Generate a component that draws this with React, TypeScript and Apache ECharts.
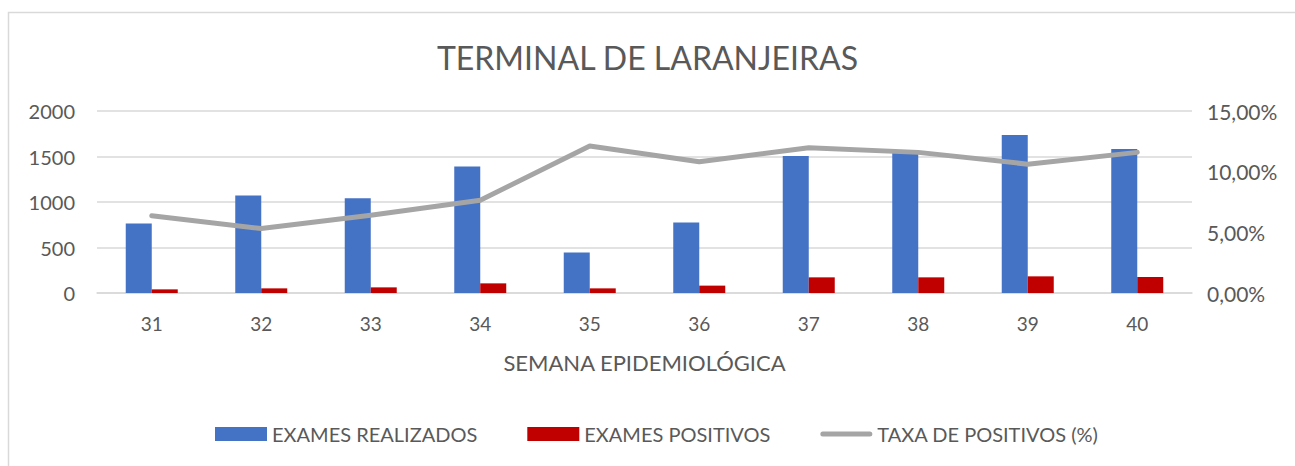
import React, { useEffect, useRef } from "react";
import * as echarts from "echarts";

const categories = ["31", "32", "33", "34", "35", "36", "37", "38", "39", "40"];
const examesRealizados = [765, 1072, 1042, 1391, 444, 774, 1505, 1540, 1736, 1582];
const examesPositivos = [40, 51, 62, 106, 51, 81, 172, 172, 183, 176];
const taxaPositivos = [6.36, 5.31, 6.41, 7.65, 12.11, 10.82, 11.97, 11.59, 10.62, 11.59];
const leftTicks = { min: 0, max: 2000, interval: 500 };
const rightTicks = { min: 0, max: 15, interval: 5 };

const FONT = "Lato";
const TEXT = "#595959";
const GRID = "#D9D9D9";

export default function App() {
  const ref = useRef<HTMLDivElement>(null);
  useEffect(() => {
    if (!ref.current) return;
    const chart = echarts.init(ref.current, null, { renderer: "svg" });
    chart.setOption({
      animation: false,
      backgroundColor: "#fff",
      textStyle: { fontFamily: FONT, color: TEXT },
      title: {
        text: "TERMINAL DE LARANJEIRAS",
        left: "center",
        top: 35,
        textStyle: { fontFamily: FONT, fontSize: 32, fontWeight: "normal", color: TEXT, lineHeight: 34 },
      },
      graphic: [
        {
          type: "rect",
          shape: { x: 8.5, y: 12.5, width: 1300, height: 470 },
          style: { fill: "none", stroke: GRID, lineWidth: 1.5 },
          silent: true,
        },
      ],
      legend: {
        left: 210,
        top: 419,
        itemWidth: 52,
        itemHeight: 14,
        itemGap: 50,
        textStyle: { fontFamily: FONT, fontSize: 20, color: TEXT },
        data: [
          { name: "EXAMES REALIZADOS", icon: "rect" },
          { name: "EXAMES POSITIVOS", icon: "rect" },
          {
            name: "TAXA DE POSITIVOS (%)",
            icon: "path://M2.5,0 L49.5,0 A2.5,2.5 0 0 1 49.5,5 L2.5,5 A2.5,2.5 0 0 1 2.5,0 Z",
            itemStyle: { color: "#A5A5A5" },
          },
        ],
      },
      grid: { left: 97, right: 103, top: 111, bottom: 173, containLabel: false },
      xAxis: {
        type: "category",
        data: categories,
        axisTick: { show: false },
        axisLine: { show: true, lineStyle: { color: GRID, width: 1.5 } },
        axisLabel: { fontFamily: FONT, fontSize: 19, color: TEXT, margin: 21 },
        name: "SEMANA EPIDEMIOLÓGICA",
        nameLocation: "middle",
        nameGap: 58,
        nameTextStyle: { fontFamily: FONT, fontSize: 22, color: TEXT, verticalAlign: "top" },
      },
      yAxis: [
        {
          type: "value",
          min: leftTicks.min,
          max: leftTicks.max,
          interval: leftTicks.interval,
          axisLine: { show: false },
          axisTick: { show: false },
          splitLine: { lineStyle: { color: GRID, width: 1.5 } },
          axisLabel: {
            fontFamily: FONT,
            fontSize: 20,
            color: TEXT,
            margin: 22,
            formatter: (v: number) => String(v),
          },
        },
        {
          type: "value",
          min: rightTicks.min,
          max: rightTicks.max,
          interval: rightTicks.interval,
          axisLine: { show: false },
          axisTick: { show: false },
          splitLine: { show: false },
          axisLabel: {
            fontFamily: FONT,
            fontSize: 21,
            color: TEXT,
            margin: 15,
            formatter: (v: number) => v.toFixed(2).replace(".", ",") + "%",
          },
        },
      ],
      series: [
        {
          name: "EXAMES REALIZADOS",
          type: "bar",
          data: examesRealizados,
          itemStyle: { color: "#4472C4" },
          barWidth: 26,
          barGap: "0%",
          barCategoryGap: "52%",
        },
        {
          name: "EXAMES POSITIVOS",
          type: "bar",
          data: examesPositivos,
          itemStyle: { color: "#C00000" },
          barWidth: 26,
          barGap: "0%",
        },
        {
          name: "TAXA DE POSITIVOS (%)",
          type: "line",
          yAxisIndex: 1,
          data: taxaPositivos,
          symbol: "none",
          z: 5,
          lineStyle: { color: "#A5A5A5", width: 5, cap: "round", join: "round" },
          itemStyle: { color: "#A5A5A5" },
        },
      ],
    });
    return () => chart.dispose();
  }, []);
  return (
    <div
      ref={ref}
      style={{ position: "absolute", left: 0, top: 0, width: 1295, height: 466 }}
    />
  );
}
